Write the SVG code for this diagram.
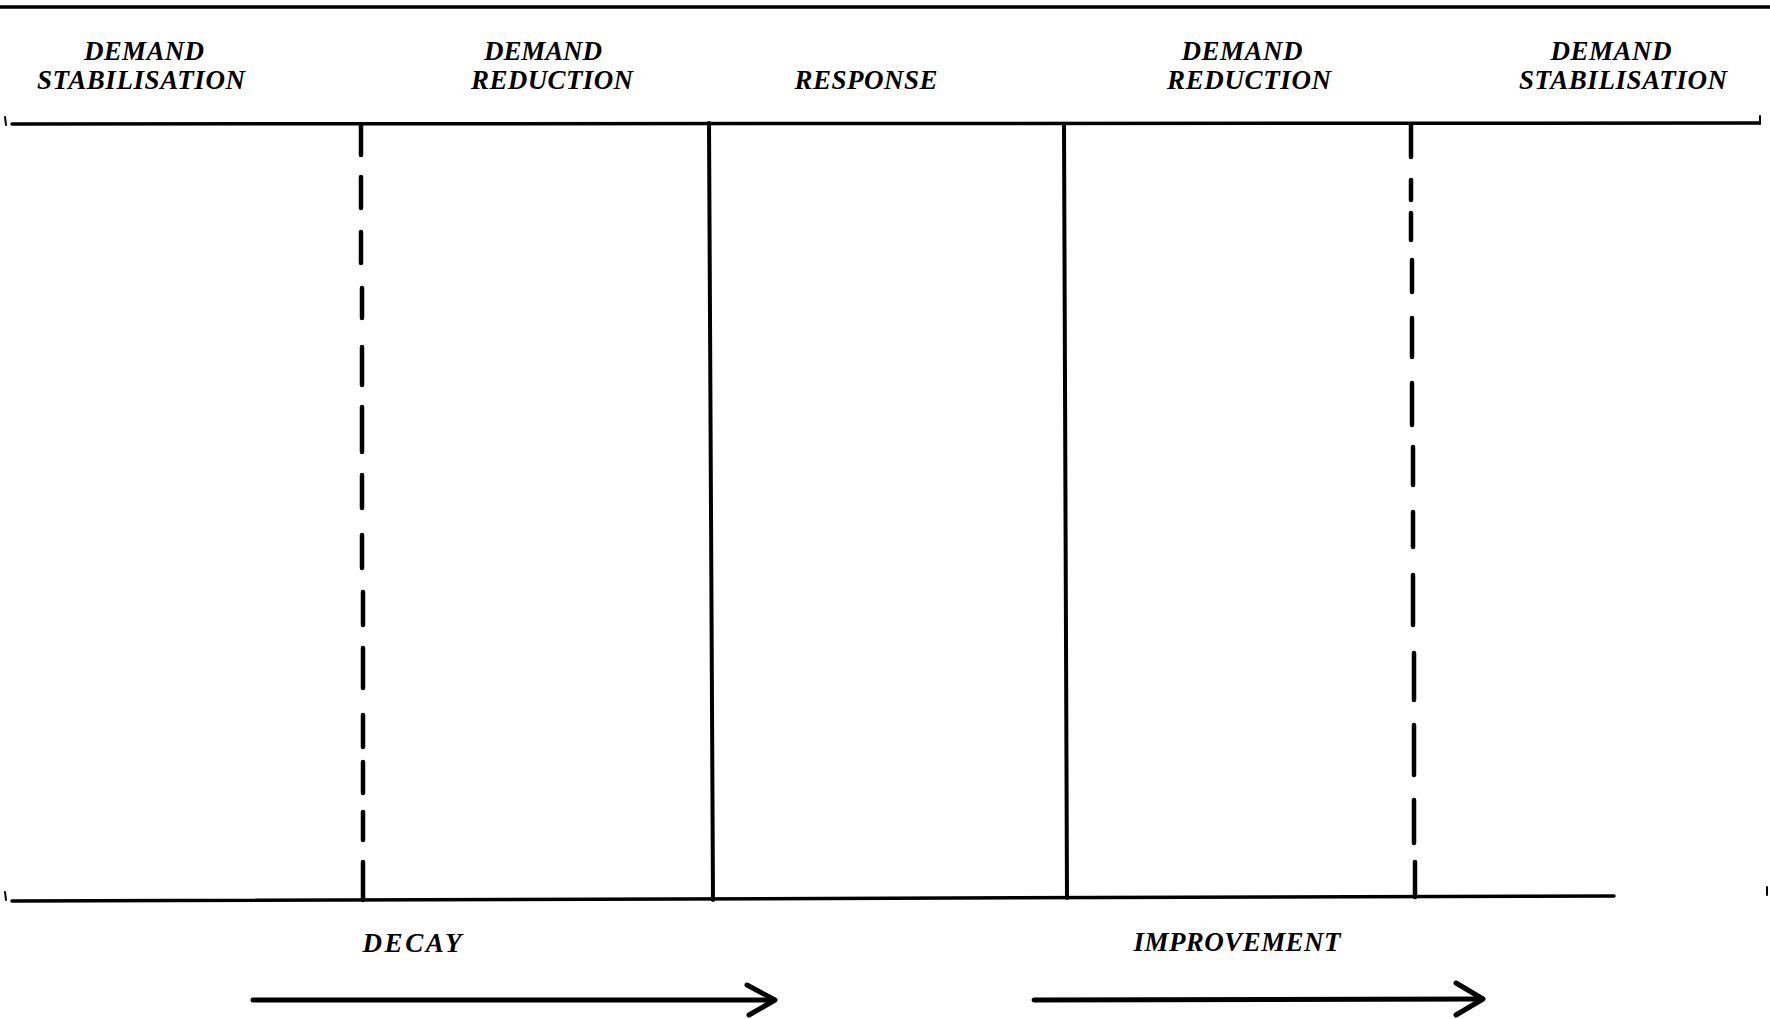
<svg xmlns="http://www.w3.org/2000/svg" width="1770" height="1019" viewBox="0 0 1770 1019">
  <style>
    .bg { fill: #ffffff; }
    .rule { stroke: #000; stroke-width: 3.5; fill: none; stroke-linecap: round; }
    .tick { stroke: #000; stroke-width: 2; fill: none; stroke-linecap: round; }
    .solid { stroke: #000; stroke-width: 4; fill: none; stroke-linecap: round; }
    .dash { stroke: #000; stroke-width: 4.5; fill: none; stroke-linecap: round; }
    .arrow { stroke: #000; stroke-width: 5; fill: none; stroke-linecap: round; stroke-linejoin: round; }
    .lbl { font-family: "Liberation Serif", "DejaVu Serif", serif; font-style: italic; font-weight: bold; font-size: 27px; fill: #000; text-anchor: middle; }
  </style>
  <rect class="bg" x="0" y="0" width="1770" height="1019"/>

  <g id="frame">
    <line class="rule" x1="0" y1="7" x2="1770" y2="7"/>
    <line class="rule" x1="12" y1="124" x2="1759" y2="123"/>
    <line class="tick" x1="5" y1="117" x2="6" y2="125"/>
    <line class="tick" x1="1760" y1="116" x2="1760" y2="124"/>
    <line class="rule" x1="12" y1="901" x2="1614" y2="896"/>
    <line class="tick" x1="5" y1="892" x2="6" y2="900"/>
    <line class="tick" x1="1767" y1="887" x2="1767" y2="895"/>
  </g>

  <g id="connectors">
    <g id="boundary-1-dashed">
      <line class="dash" x1="361" y1="125" x2="361" y2="155"/>
      <line class="dash" x1="361" y1="177" x2="361" y2="208"/>
      <line class="dash" x1="361" y1="232" x2="361" y2="263"/>
      <line class="dash" x1="362" y1="288" x2="362" y2="318"/>
      <line class="dash" x1="362" y1="347" x2="362" y2="385"/>
      <line class="dash" x1="362" y1="407" x2="362" y2="452"/>
      <line class="dash" x1="362" y1="475" x2="362" y2="508"/>
      <line class="dash" x1="362" y1="535" x2="362" y2="568"/>
      <line class="dash" x1="363" y1="592" x2="363" y2="625"/>
      <line class="dash" x1="363" y1="648" x2="363" y2="688"/>
      <line class="dash" x1="363" y1="715" x2="363" y2="747"/>
      <line class="dash" x1="363" y1="762" x2="363" y2="793"/>
      <line class="dash" x1="363" y1="812" x2="363" y2="840"/>
      <line class="dash" x1="363" y1="862" x2="363" y2="900"/>
    </g>
    <line id="boundary-2" class="solid" x1="709" y1="123" x2="713" y2="900"/>
    <line id="boundary-3" class="solid" x1="1064" y1="124" x2="1067" y2="898"/>
    <g id="boundary-4-dashed">
      <line class="dash" x1="1411" y1="125" x2="1411" y2="157"/>
      <line class="dash" x1="1411" y1="180" x2="1411" y2="200"/>
      <line class="dash" x1="1411" y1="213" x2="1411" y2="240"/>
      <line class="dash" x1="1412" y1="260" x2="1412" y2="292"/>
      <line class="dash" x1="1412" y1="318" x2="1412" y2="357"/>
      <line class="dash" x1="1412" y1="383" x2="1412" y2="425"/>
      <line class="dash" x1="1413" y1="447" x2="1413" y2="485"/>
      <line class="dash" x1="1413" y1="512" x2="1413" y2="547"/>
      <line class="dash" x1="1413" y1="575" x2="1413" y2="625"/>
      <line class="dash" x1="1414" y1="653" x2="1414" y2="700"/>
      <line class="dash" x1="1414" y1="725" x2="1414" y2="775"/>
      <line class="dash" x1="1414" y1="800" x2="1414" y2="843"/>
      <line class="dash" x1="1415" y1="862" x2="1415" y2="897"/>
    </g>
    <g id="arrow-decay">
      <line class="arrow" x1="253" y1="1000" x2="774" y2="1000"/>
      <polyline class="arrow" points="747,985 775,1000 749,1015"/>
    </g>
    <g id="arrow-improvement">
      <line class="arrow" x1="1034" y1="1000" x2="1482" y2="999"/>
      <polyline class="arrow" points="1456,983 1483,999 1456,1015"/>
    </g>
  </g>

  <g id="node-demand-stabilisation-left">
    <text class="lbl" x="144" y="60" textLength="120" lengthAdjust="spacing">DEMAND</text>
    <text class="lbl" x="141" y="89" textLength="208" lengthAdjust="spacing">STABILISATION</text>
  </g>
  <g id="node-demand-reduction-left">
    <text class="lbl" x="543" y="60" textLength="118" lengthAdjust="spacing">DEMAND</text>
    <text class="lbl" x="552" y="89" textLength="162" lengthAdjust="spacing">REDUCTION</text>
  </g>
  <g id="node-response">
    <text class="lbl" x="866" y="89" textLength="143" lengthAdjust="spacing">RESPONSE</text>
  </g>
  <g id="node-demand-reduction-right">
    <text class="lbl" x="1242" y="60" textLength="121" lengthAdjust="spacing">DEMAND</text>
    <text class="lbl" x="1249" y="89" textLength="164" lengthAdjust="spacing">REDUCTION</text>
  </g>
  <g id="node-demand-stabilisation-right">
    <text class="lbl" x="1611" y="60" textLength="121" lengthAdjust="spacing">DEMAND</text>
    <text class="lbl" x="1623" y="89" textLength="208" lengthAdjust="spacing">STABILISATION</text>
  </g>
  <g id="node-decay">
    <text class="lbl" x="412" y="952" textLength="99" lengthAdjust="spacing">DECAY</text>
  </g>
  <g id="node-improvement">
    <text class="lbl" x="1237" y="951" textLength="207" lengthAdjust="spacing">IMPROVEMENT</text>
  </g>
</svg>
